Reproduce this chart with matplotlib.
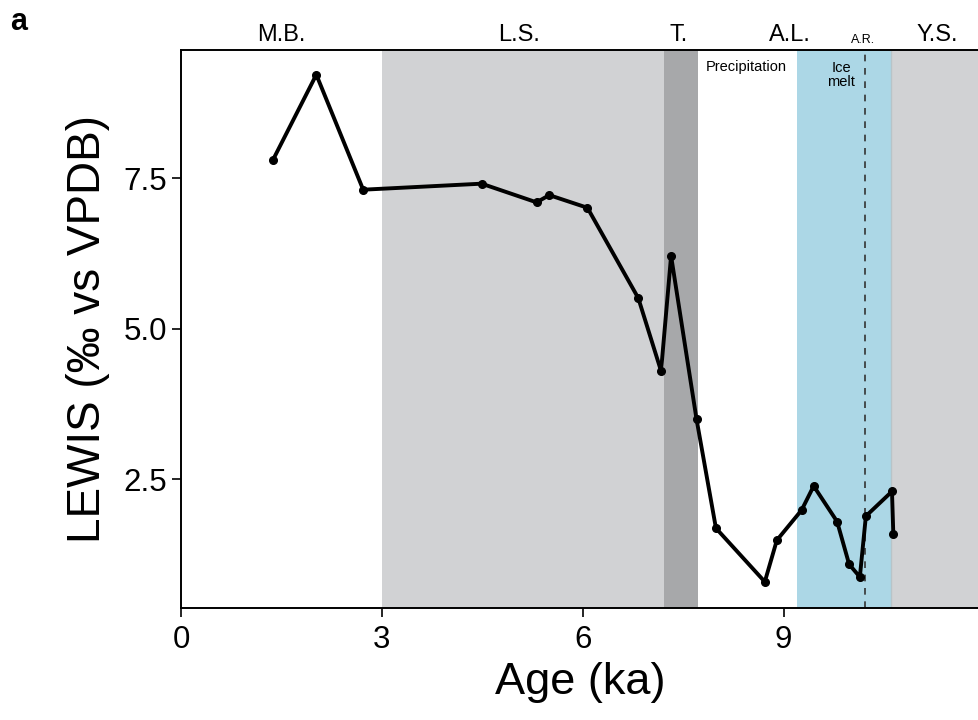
import matplotlib
matplotlib.use("Agg")
import matplotlib.pyplot as plt

# LEWIS record
age_ka = [1.37, 2.02, 2.72, 4.49, 5.31, 5.50, 6.07, 6.83, 7.17, 7.32, 7.70,
          7.99, 8.72, 8.90, 9.27, 9.45, 9.80, 9.98, 10.14, 10.23, 10.62, 10.64]
lewis = [7.80, 9.22, 7.31, 7.41, 7.10, 7.22, 7.01, 5.51, 4.30, 6.21, 3.50,
         1.69, 0.80, 1.49, 1.99, 2.39, 1.80, 1.09, 0.88, 1.89, 2.30, 1.59]

# shaded periods (start, end, colour)
periods = [(3.0, 7.21, "#d1d2d4"), (7.21, 7.72, "#a7a8aa"),
           (9.20, 10.61, "#acd7e6"), (10.61, 12.5, "#d1d2d4")]
period_names = ["M.B.", "L.S.", "T.", "A.L.", "Y.S."]
period_label_x = [1.5, 5.05, 7.44, 9.1, 11.3]
ar_age = 10.21

plt.rcParams["font.family"] = ["Liberation Sans", "DejaVu Sans"]

fig = plt.figure(figsize=(9.79, 7.2), dpi=100)
ax = fig.add_axes([0.185, 0.156, 0.815, 0.7746])

for x0, x1, c in periods:
    ax.axvspan(x0, x1, color=c, lw=0, zorder=0)
ax.axvline(10.61, color="#b8c4c8", lw=1.0, zorder=1)
ax.axvline(ar_age, color="#333333", lw=1.2, ls=(0, (4, 4)), zorder=1)

ax.plot(age_ka, lewis, color="black", lw=2.8, marker="o", ms=5.5, zorder=3)

ax.set_xlim(0, 11.92)
ax.set_ylim(0.37, 9.63)
ax.set_xticks([0, 3, 6, 9])
ax.set_yticks([2.5, 5.0, 7.5])
ax.set_yticklabels(["2.5", "5.0", "7.5"])
ax.tick_params(labelsize=22.5, length=6.5, width=1.2, direction="out")
ax.tick_params(axis="x", pad=6)
ax.spines["right"].set_visible(False)
for s in ["left", "bottom", "top"]:
    ax.spines[s].set_linewidth(1.4)

ax.set_xlabel("Age (ka)", fontsize=32.5, labelpad=5)
ax.set_ylabel("LEWIS (‰ vs VPDB)", fontsize=33, labelpad=10)

tr = ax.get_xaxis_transform()
for name, x in zip(period_names, period_label_x):
    ax.text(x, 1.027, name, transform=tr, ha="center", va="center", fontsize=17)
ax.text(ar_age - 0.02, 1.018, "A.R.", transform=tr, ha="center", va="center", fontsize=9)
ax.text(8.44, 0.969, "Precipitation", transform=tr, ha="center", va="center", fontsize=10.5)
ax.text(9.86, 0.955, "Ice\nmelt", transform=tr, ha="center", va="center",
        fontsize=10.5, linespacing=0.95)

fig.text(0.01, 0.97, "a", fontsize=22, fontweight="bold", va="center")

fig.savefig("out.png", dpi=100)
